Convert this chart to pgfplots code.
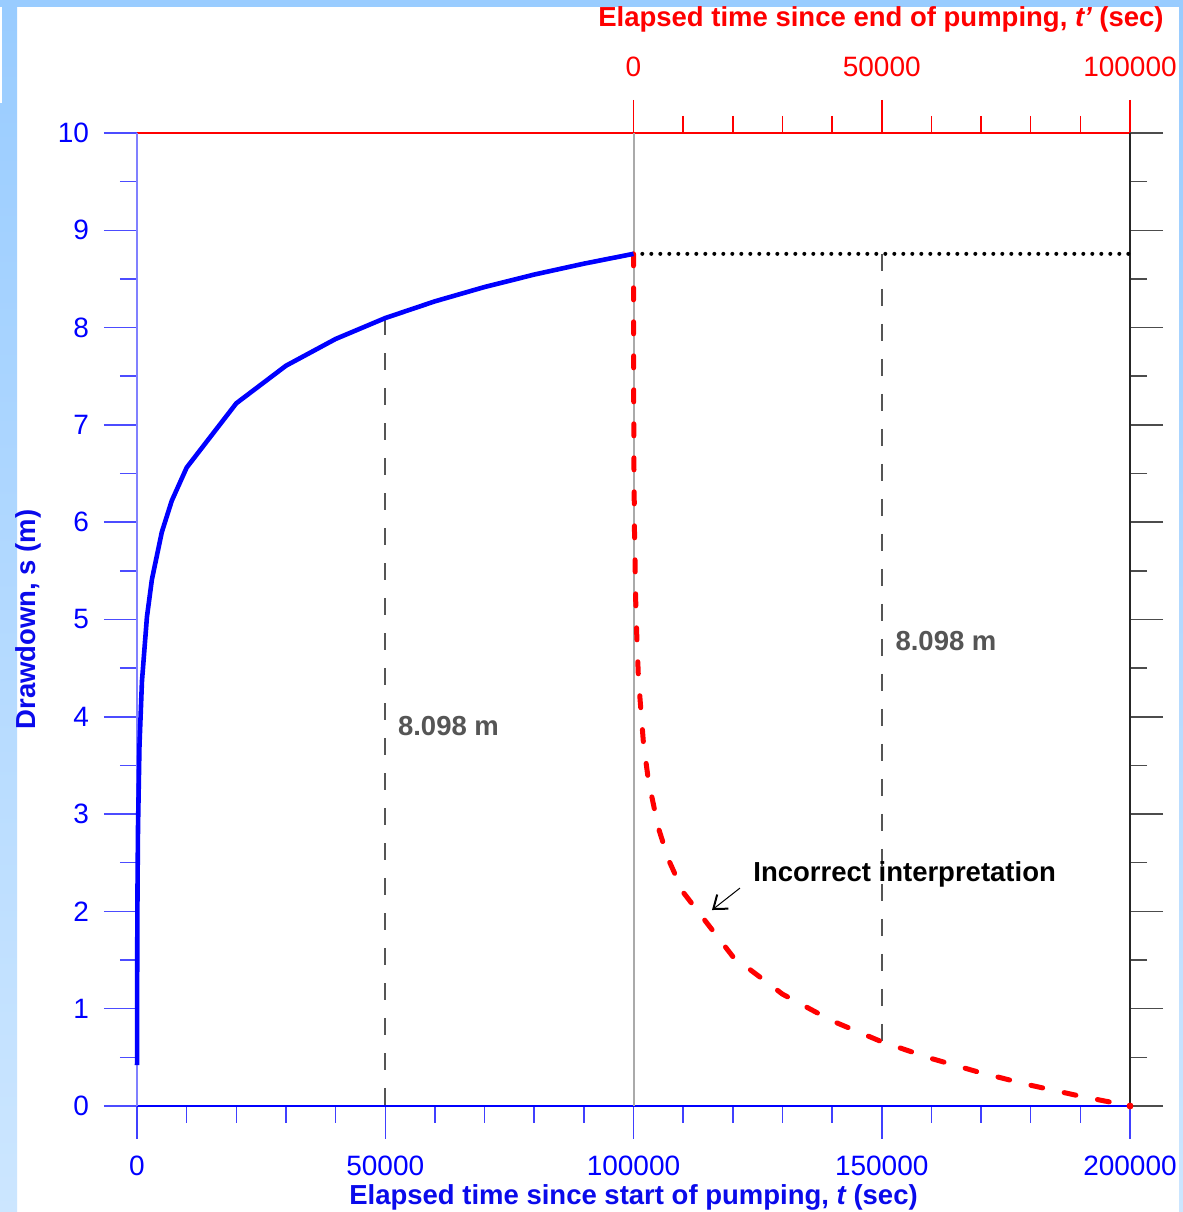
\documentclass[border=0pt]{standalone}
\usepackage{fontspec}
\setmainfont{Liberation Sans}
\usepackage{pgfplots}
\pgfplotsset{compat=1.18}
\usetikzlibrary{arrows.meta}

\definecolor{frameblue}{RGB}{153,204,255}
\definecolor{framelight}{RGB}{204,230,255}
\definecolor{axblue}{RGB}{0,0,255}
\definecolor{axlight}{RGB}{128,128,255}
\definecolor{labelblue}{RGB}{10,10,235}
\definecolor{guidegray}{RGB}{85,85,85}
\definecolor{splitgray}{RGB}{170,170,170}

% drawdown during pumping, t (s) vs s (m)
\pgfplotstableread{
t       s
10      0.42
20      0.885
50      1.608
100     2.215
200     2.851
500     3.709
1000    4.366
2000    5.025
3000    5.411
5000    5.898
7000    6.220
10000   6.561
20000   7.222
30000   7.608
40000   7.883
50000   8.098
60000   8.270
70000   8.417
80000   8.545
90000   8.657
100000  8.758
}\pumping

% residual drawdown read the wrong way after the pump stops
\pgfplotstableread{
t       s
100000  8.758
100010  8.310
100020  7.873
100050  7.150
100100  6.543
100200  5.907
100500  5.049
101000  4.392
102000  3.733
103000  3.347
105000  2.860
107000  2.538
110000  2.197
120000  1.536
130000  1.150
140000  0.875
150000  0.660
160000  0.488
170000  0.341
180000  0.213
190000  0.101
200000  0.000
}\recovery

\newcommand{\tickfont}{\fontsize{14pt}{16pt}\selectfont}
\newcommand{\titlefont}{\bfseries\fontsize{13.75pt}{16pt}\selectfont}

\pgfplotsset{
  frame/.style={
    at={(68.5pt,53pt)}, anchor=south west,
    width=496.5pt, height=486.5pt, scale only axis,
    ymin=0, ymax=10,
    tick align=outside,
    major tick length=16.5pt, minor tick length=8.5pt,
    scaled x ticks=false, scaled y ticks=false,
    ytick={0,1,...,10},
    minor ytick={0.5,1.5,...,9.5},
    clip=false,
  },
}

\begin{document}
\begin{tikzpicture}
\useasboundingbox (0,0) rectangle (591.5pt,606pt);
% page and border band
\fill[white] (0,0) rectangle (591.5pt,606pt);
\fill[frameblue] (0,602.5pt) rectangle (591.5pt,606pt);
\shade[top color=frameblue,bottom color=framelight] (0,0) rectangle (8.5pt,602.5pt);
\shade[top color=frameblue,bottom color=framelight] (589.5pt,0) rectangle (591.5pt,602.5pt);
\fill[white] (0,554.5pt) rectangle (1pt,602.5pt);

% elapsed time since end of pumping (top) and right frame
\begin{axis}[frame,
  xmin=-100000, xmax=100000,
  axis x line*=top, axis y line*=right,
  x axis line style={red, line width=0.75pt, -},
  y axis line style={black!85, line width=0.75pt, -},
  xtick={0,50000,100000}, xticklabels={0,50000,100000},
  minor xtick={10000,20000,...,90000},
  yticklabels={},
  x tick style={red, line width=0.75pt},
  y tick style={black!70, line width=0.75pt},
  xticklabel style={font=\tickfont, text=red, yshift=8pt},
  xlabel={Elapsed time since end of pumping, {\itshape t’} (sec)},
  xlabel style={at={(axis description cs:0.7492,1.1172)}, anchor=center,
    font=\titlefont, text=red},
]
\end{axis}

% elapsed time since start of pumping (bottom) and drawdown (left)
\begin{axis}[frame,
  xmin=0, xmax=200000,
  axis x line*=bottom, axis y line*=left,
  x axis line style={axblue, line width=0.75pt, -},
  y axis line style={axlight, line width=0.75pt, -},
  xtick={0,50000,100000,150000,200000},
  xticklabels={0,50000,100000,150000,200000},
  minor xtick={10000,20000,...,190000},
  yticklabels={0,1,2,3,4,5,6,7,8,9,10},
  x tick style={axblue!75, line width=0.75pt},
  y tick style={axblue!70, line width=0.75pt},
  ticklabel style={font=\tickfont, text=axblue},
  xticklabel style={yshift=-5pt},
  yticklabel style={xshift=-4pt},
  xlabel={Elapsed time since start of pumping, {\itshape t} (sec)},
  xlabel style={at={(axis description cs:0.5,-0.0935)}, anchor=center,
    font=\titlefont, text=labelblue},
  ylabel={Drawdown, s (m)},
  ylabel style={at={(axis description cs:-0.1098,0.5)}, anchor=center,
    rotate=0, font=\titlefont, text=labelblue},
]
% end of pumping
\addplot[splitgray, line width=1pt] coordinates {(100000,0) (100000,10)};
% guides at the drawdown 8.098 m
\addplot[guidegray, line width=1pt, dash pattern=on 8.5pt off 9pt]
  coordinates {(50000,8.098) (50000,0)};
\addplot[guidegray, line width=1pt, dash pattern=on 8.5pt off 9pt]
  coordinates {(150000,8.758) (150000,0.660)};
% drawdown at the end of pumping, held
\addplot[black, line width=2pt, line cap=round,
  dash pattern=on 0pt off 4.5pt, dash phase=0.1pt]
  coordinates {(100000,8.758) (200000,8.758)};
% curves
\addplot[red, line width=2.5pt, line cap=round,
  dash pattern=on 6pt off 11pt] table[x=t,y=s] {\recovery};
\addplot[axblue, line width=2.3pt, line join=round] table[x=t,y=s] {\pumping};
\addplot[only marks, mark=*, mark size=1.5pt, red] coordinates {(200000,0)};

\node[anchor=west, inner sep=0pt, text=guidegray, font=\titlefont]
  at (axis cs:52500,3.9) {8.098 m};
\node[anchor=west, inner sep=0pt, text=guidegray, font=\titlefont]
  at (axis cs:152700,4.78) {8.098 m};
\node[anchor=west, inner sep=0pt, font=\titlefont]
  at (axis cs:124060,2.385) {Incorrect interpretation};
\draw[line width=0.5pt, -{Straight Barb[length=6pt,width=9pt,line width=1pt]}]
  (axis cs:121450,2.24) -- (axis cs:115810,2.014);
\end{axis}
\end{tikzpicture}
\end{document}
